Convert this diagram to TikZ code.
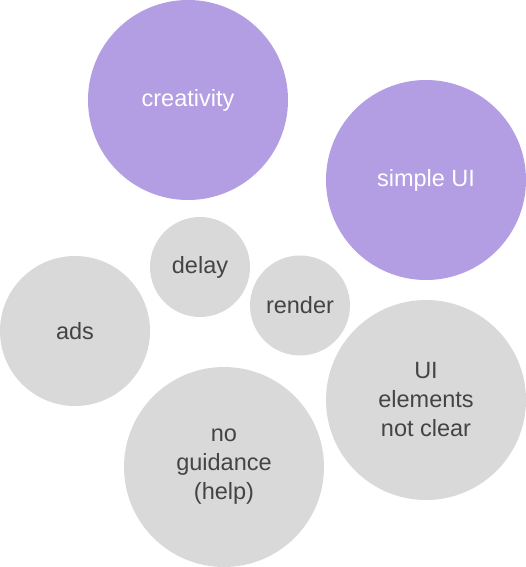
\documentclass[tikz,border=0pt]{standalone}
\usepackage{fontspec}
\setmainfont{Liberation Sans}
\definecolor{bubpurple}{RGB}{179,157,227}
\definecolor{bubgray}{RGB}{217,217,217}
\definecolor{txtgray}{RGB}{68,68,68}
\begin{document}
\begin{tikzpicture}[x=1pt,y=-1pt,
  bub/.style={circle,inner sep=0pt,align=center,font=\fontsize{23.5}{29}\selectfont},
  purplebub/.style={bub,fill=bubpurple,text=white},
  graybub/.style={bub,fill=bubgray,text=txtgray}]
\useasboundingbox (0,0) rectangle (526,567);
\node[purplebub,minimum size=200pt] (creativity) at (188,100) {creativity};
\node[purplebub,minimum size=200pt] (simpleui) at (426,180) {simple UI};
\node[graybub,minimum size=100pt] (delay) at (200,267) {delay};
\node[graybub,minimum size=100pt] (render) at (300,305.5) {render};
\node[graybub,minimum size=150pt] (ads) at (75,331) {ads};
\node[graybub,minimum size=200pt] (uielements) at (426,400) {UI\\elements\\not clear};
\node[graybub,minimum size=200pt] (noguidance) at (224,467) {no\\guidance\\(help)};
\end{tikzpicture}
\end{document}
